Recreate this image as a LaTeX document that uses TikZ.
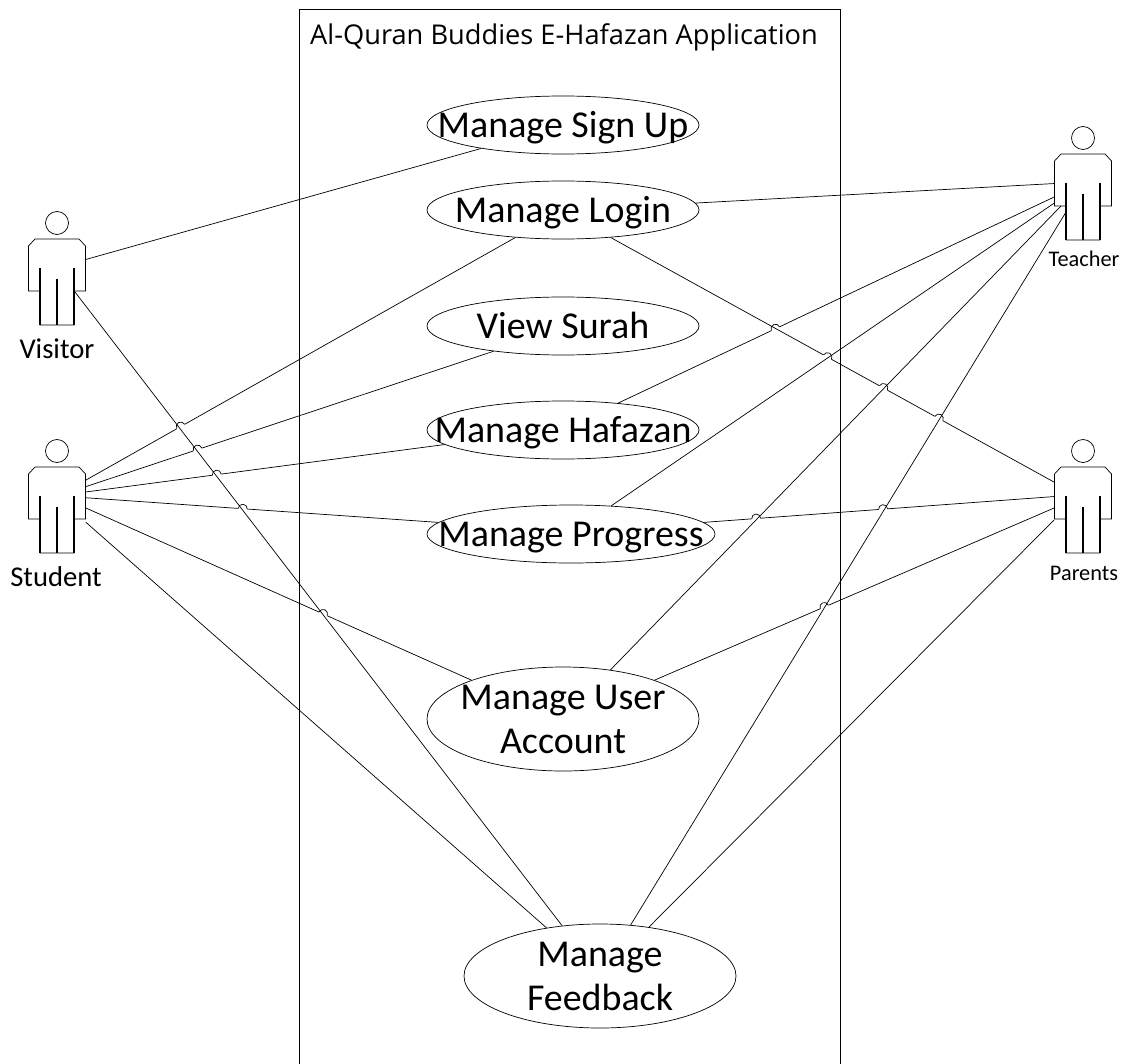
\documentclass[tikz,border=0pt]{standalone}
\usepackage{fontspec}
\setmainfont{Carlito}
\newfontfamily\titlefont{Open Sans}
\usetikzlibrary{shapes.geometric}
\tikzset{
	usecase/.style={draw, ellipse, inner sep=0pt, minimum width=272*0.02cm, minimum height=58*0.02cm, font=\fontsize{21.6}{25}\selectfont},
	bigcase/.style={usecase, minimum height=104*0.02cm},
	actorbox/.style={inner sep=0pt, minimum width=57*0.02cm, minimum height=86*0.02cm},
	link/.style={line width=0.4pt},
	hop/.pic={
		\draw[white, line width=1.2pt] (-4.5,0) -- (4.5,0);
		\draw[line width=0.4pt] (-4.5,0) arc (180:360:4.5);
	}
}
\newcommand{\casetext}[1]{\raisebox{-7.2pt}[0pt][0pt]{\makebox[0pt][c]{\begin{tabular}{@{}c@{}}#1\end{tabular}}}}
\newcommand{\umlactor}[3]{
	\begin{scope}[shift={(#2,#3)}]
		\node[actorbox] (#1) at (0,0) {};
		\coordinate (#1-armr) at (18,10);
		\coordinate (#1-arml) at (-22,9);
		\coordinate (#1-legl) at (-17,15);
		\draw (0,-59) circle (11.5);
		\draw (-28.5,-36) -- (-22,-43) -- (22,-43) -- (28.5,-36) -- (28.5,9) -- (17,9) -- (17,43) -- (-17,43) -- (-17,9) -- (-28.5,9) -- cycle;
		\draw[line width=0.8pt] (-17,-14) -- (-17,43);
		\draw[line width=0.8pt] (17,-14) -- (17,43);
		\draw[line width=0.8pt] (0,-3) -- (0,43);
	\end{scope}
}
\begin{document}
\begin{tikzpicture}[x=0.02cm, y=-0.02cm, line width=0.4pt]
	\useasboundingbox (0,0) rectangle (1135,1064);
	\draw (299.5,1064) -- (299.5,9.5) -- (840,9.5) -- (840,1064);
	\node[font=\titlefont\fontsize{15.5}{18}\selectfont] (title) at (564,37) {Al-Quran Buddies E-Hafazan Application};

	\node[usecase] (signup) at (563,125) {\casetext{Manage Sign Up}};
	\node[usecase] (login) at (563,210) {\casetext{Manage Login}};
	\node[usecase] (surah) at (563,326) {\casetext{View Surah}};
	\node[usecase] (hafazan) at (563,430) {\casetext{Manage Hafazan}};
	\node[usecase, minimum width=288*0.02cm] (progress) at (571,534) {\casetext{Manage Progress}};
	\node[bigcase] (account) at (563,719) {\casetext{Manage User\\Account}};
	\node[bigcase] (feedback) at (600,976) {\casetext{Manage\\Feedback}};

	\umlactor{visitor}{57}{282}
	\umlactor{student}{57}{510}
	\umlactor{teacher}{1083}{197}
	\umlactor{parents}{1083}{510}
	\node[font=\fontsize{16.3}{19}\selectfont] (visitorlabel) at (57,349) {Visitor};
	\node[font=\fontsize{16.3}{19}\selectfont] (studentlabel) at (56,577) {Student};
	\node[font=\fontsize{12.7}{15}\selectfont] (teacherlabel) at (1084,259) {Teacher};
	\node[font=\fontsize{12.7}{15}\selectfont] (parentslabel) at (1084,573) {Parents};

	% lines that jump
	\draw[link] (student.46) -- (login.210) pic[pos=.221, sloped] {hop};
	\draw[link] (student.39) -- (surah.200) pic[pos=.274, sloped] {hop};
	\draw[link] (student.32) -- (hafazan.187) pic[pos=.365, sloped] {hop};
	\draw[link] (student.23) -- (progress.175) pic[pos=.445, sloped] {hop};
	\draw[link] (student.4) -- (account.157) pic[pos=.615, sloped] {hop};
	\draw[link] (hafazan.26) -- (teacher.180) pic[pos=.361, sloped] {hop};
	\draw[link] (login.-30) -- (parents.136) pic[pos=.489, sloped] {hop} pic[pos=.615, sloped] {hop} pic[pos=.74, sloped] {hop};
	\draw[link] (progress.5) -- (parents.155) pic[pos=.15, sloped] {hop} pic[pos=.512, sloped] {hop};
	\draw[link] (account.23) -- (parents.176) pic[pos=.425, sloped] {hop};

	% plain lines
	\draw[link] (visitor.38) -- (signup.-164);
	\draw[link] (visitor-armr) -- (feedback.127);
	\draw[link] (student.-23) -- (feedback.138);
	\draw[link] (login.3) -- (teacher.155);
	\draw[link] (progress.35) -- (teacher.192);
	\draw[link] (account.46) -- (teacher-arml);
	\draw[link] (feedback.59) -- (teacher-legl);
	\draw[link] (feedback.45) -- (parents.199);
\end{tikzpicture}
\end{document}
